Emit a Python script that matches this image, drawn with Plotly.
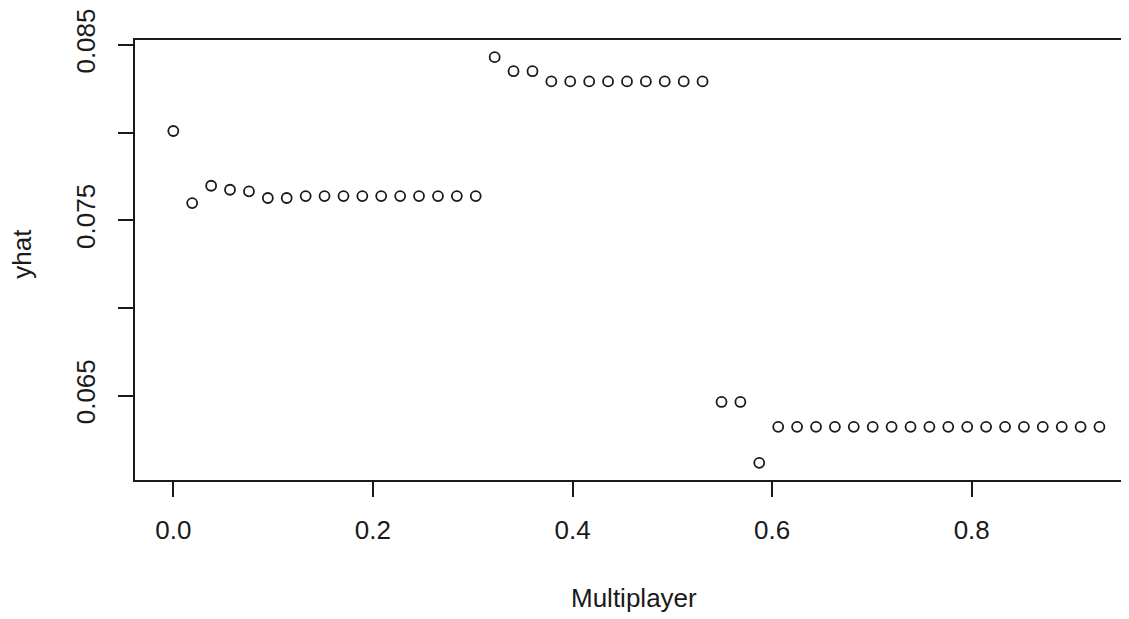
import plotly.graph_objects as go

multiplayer = [0.0000, 0.0189, 0.0379, 0.0568, 0.0758, 0.0947, 0.1136, 0.1326, 0.1515, 0.1705,
               0.1894, 0.2083, 0.2273, 0.2462, 0.2652, 0.2841, 0.3030, 0.3220, 0.3409, 0.3599,
               0.3788, 0.3977, 0.4167, 0.4356, 0.4546, 0.4735, 0.4924, 0.5114, 0.5303, 0.5493,
               0.5682, 0.5871, 0.6061, 0.6250, 0.6440, 0.6629, 0.6818, 0.7008, 0.7197, 0.7387,
               0.7576, 0.7765, 0.7955, 0.8144, 0.8334, 0.8523, 0.8712, 0.8902, 0.9091, 0.9280]

yhat = [0.08009, 0.07598, 0.07697, 0.07674, 0.07665, 0.07627, 0.07627, 0.07638, 0.07638, 0.07638,
        0.07638, 0.07638, 0.07638, 0.07638, 0.07638, 0.07638, 0.07638, 0.08430, 0.08350, 0.08350,
        0.08292, 0.08292, 0.08292, 0.08292, 0.08292, 0.08292, 0.08292, 0.08292, 0.08292, 0.06464,
        0.06464, 0.06117, 0.06322, 0.06322, 0.06322, 0.06322, 0.06322, 0.06322, 0.06322, 0.06322,
        0.06322, 0.06322, 0.06322, 0.06322, 0.06322, 0.06322, 0.06322, 0.06322, 0.06322, 0.06322]

x_tickvals = [0.0, 0.2, 0.4, 0.6, 0.8]
x_ticktext = ["0.0", "0.2", "0.4", "0.6", "0.8"]
y_tickvals = [0.065, 0.070, 0.075, 0.080, 0.085]
y_ticktext = ["0.065", "", "0.075", "", "0.085"]

FONT = "Liberation Sans, Arial, sans-serif"
INK = "#1a1a1a"
FS = 26

fig = go.Figure()
fig.add_trace(go.Scatter(
    x=multiplayer, y=yhat, mode="markers",
    marker=dict(symbol="circle-open", size=10, color=INK, line=dict(width=1.8, color=INK)),
    showlegend=False, hoverinfo="x+y",
))

fig.update_layout(
    width=1121, height=611,
    margin=dict(l=127, r=0, t=30, b=139, pad=0),
    paper_bgcolor="white", plot_bgcolor="white",
    font=dict(family=FONT, size=FS, color=INK),
    xaxis=dict(
        range=[-0.0384, 0.9576], showgrid=False, zeroline=False,
        showline=True, linecolor=INK, linewidth=2, mirror=True,
        ticks="outside", ticklen=15, tickwidth=1.6, tickcolor=INK,
        tickvals=x_tickvals, ticktext=x_ticktext, ticklabelstandoff=11,
        ticklabeloverflow="allow",
        tickfont=dict(family=FONT, size=FS, color=INK),
    ),
    yaxis=dict(
        range=[0.06019, 0.08528], showgrid=False, zeroline=False,
        showline=True, linecolor=INK, linewidth=2, mirror=False,
        ticks="outside", ticklen=15, tickwidth=1.6, tickcolor=INK,
        tickvals=y_tickvals, ticktext=y_ticktext, tickangle=-90, ticklabelstandoff=13,
        ticklabeloverflow="allow",
        tickfont=dict(family=FONT, size=FS, color=INK),
    ),
    annotations=[
        dict(text="Multiplayer", xref="x", yref="paper", x=0.462, y=0, yshift=-118,
             xanchor="center", yanchor="middle", showarrow=False, borderpad=0,
             font=dict(family=FONT, size=FS, color=INK)),
        dict(text="yhat", xref="paper", yref="y", x=0, y=0.07309, xshift=-113,
             xanchor="center", yanchor="middle", textangle=-90, showarrow=False, borderpad=0,
             font=dict(family=FONT, size=FS, color=INK)),
    ],
)

fig.write_html("out.html")
